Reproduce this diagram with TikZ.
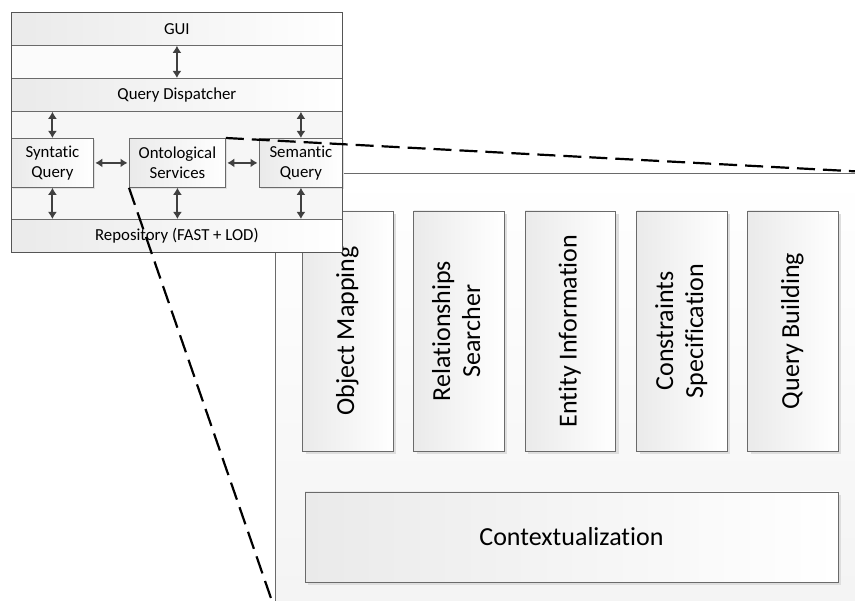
\documentclass[tikz,border=0pt]{standalone}
\usepackage{fontspec}
\setmainfont{Carlito}[Ligatures=NoCommon]
\usetikzlibrary{arrows.meta,shadows}
\definecolor{edge}{HTML}{6A6A6A}
\definecolor{outer}{HTML}{555555}
\definecolor{arr}{HTML}{404040}
\definecolor{bandL}{HTML}{EAEAEA}
\definecolor{panelbg}{HTML}{F6F6F6}
\definecolor{ctxbg}{HTML}{F3F3F3}
\newcommand\vtext[1]{\rotatebox{90}{\begin{tabular}{@{}c@{}}#1\end{tabular}}}
\begin{document}
\begin{tikzpicture}[x=1pt,y=-1pt,
  box/.style={draw=edge, line width=0.8pt, left color=bandL, right color=white,
    inner sep=0pt, align=center, anchor=north west},
  sbox/.style={box, drop shadow={shadow xshift=3pt, shadow yshift=-3pt, fill=black!13, opacity=1}},
  ssbox/.style={box, drop shadow={shadow xshift=1.5pt, shadow yshift=-1.5pt, fill=black!12, opacity=1}},
  lbl/.style={font=\fontsize{16.8}{20}\selectfont},
  big/.style={font=\fontsize{26}{30}\selectfont},
  dblarrow/.style={{Latex[length=7pt,width=9pt]}-{Latex[length=7pt,width=9pt]}, draw=arr, line width=2pt},
  zoomline/.style={draw=black, line width=2.2pt, dash pattern=on 18pt off 8pt}
]
\useasboundingbox (0,0) rectangle (855,601);
\clip (0,0) rectangle (855,601);

% right (zoomed) container
\node[draw=edge, line width=0.8pt, top color=white, bottom color=ctxbg, anchor=north west,
  minimum width=620pt, minimum height=460pt, inner sep=0pt] (ctx) at (275,173) {};

% vertical component boxes
\node[sbox, big, anchor=center, minimum width=90.5pt, minimum height=240pt] (om) at (348,331) {\vtext{Object Mapping}};
\node[sbox, big, anchor=center, minimum width=90.5pt, minimum height=240pt] (rs) at (459,331) {\vtext{Relationships\\Searcher}};
\node[sbox, big, anchor=center, minimum width=90.5pt, minimum height=240pt] (ei) at (570.5,331) {\vtext{Entity Information}};
\node[sbox, big, anchor=center, minimum width=90.5pt, minimum height=240pt] (cs) at (682,331) {\vtext{Constraints\\Specification}};
\node[sbox, big, anchor=center, minimum width=90.5pt, minimum height=240pt] (qb) at (793,331) {\vtext{Query Building}};
\node[sbox, big, anchor=center, minimum width=533pt, minimum height=90pt] (cx) at (571.5,537) {Contextualization};

% left architecture panel
\node[draw=outer, line width=0.9pt, fill=panelbg, anchor=north west, minimum width=331pt,
  minimum height=240pt, inner sep=0pt] (panel) at (11,12) {};
\fill[white!60!panelbg] (11.5,45) rectangle (341.5,78);
\node[box, lbl, minimum width=331pt, minimum height=33pt] (gui) at (11,12) {GUI};
\node[box, lbl, minimum width=331pt, minimum height=33pt] (qd) at (11,78) {Query Dispatcher};
\node[ssbox, lbl, minimum width=82pt, minimum height=49pt] (syn) at (11,138) {Syntatic\\Query};
\node[ssbox, lbl, minimum width=96pt, minimum height=49pt] (ont) at (129,138) {Ontological\\Services};
\node[ssbox, lbl, minimum width=83pt, minimum height=49pt] (sem) at (259,138) {Semantic\\Query};
\node[box, lbl, minimum width=331pt, minimum height=33pt] (repo) at (11,219) {Repository (FAST + LOD)};
\draw[outer, line width=0.9pt] (panel.north west) rectangle (panel.south east);

% arrows
\draw[dblarrow] (gui.south) -- (qd.north);
\draw[dblarrow] (syn.north) -- (syn.north |- qd.south);
\draw[dblarrow] (sem.north) -- (sem.north |- qd.south);
\draw[dblarrow] (syn.south) -- (syn.south |- repo.north);
\draw[dblarrow] (ont.south) -- (ont.south |- repo.north);
\draw[dblarrow] (sem.south) -- (sem.south |- repo.north);
\draw[dblarrow, shorten <=1.5pt, shorten >=1.5pt] (syn.east) -- (ont.west);
\draw[dblarrow, shorten <=1.5pt, shorten >=1.5pt] (ont.east) -- (sem.west);

% zoom lines
\coordinate (zr) at (858,171.5);
\coordinate (zb) at (273,604);
\draw[zoomline] (ont.north east) -- (zr);
\draw[zoomline] (ont.south west) -- (zb);
\end{tikzpicture}
\end{document}
